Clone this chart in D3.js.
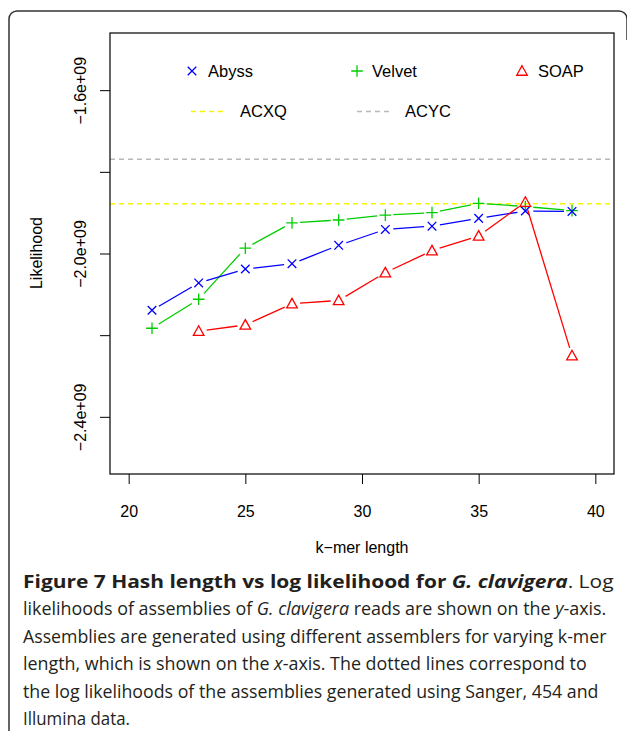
<!DOCTYPE html>
<html>
<head>
<meta charset="utf-8">
<script src="https://cdn.jsdelivr.net/npm/d3@7"></script>
<style>
html,body{margin:0;padding:0;background:#fff;}
svg{display:block;}
</style>
</head>
<body>
<svg id="chart" width="627" height="731"></svg>
<script>
// ---- data ----
const kmers = [21, 23, 25, 27, 29, 31, 33, 35, 37, 39];
const abyss = [-2.139e9, -2.072e9, -2.038e9, -2.025e9, -1.980e9, -1.941e9, -1.933e9, -1.914e9, -1.896e9, -1.897e9];
const velvet = [-2.183e9, -2.112e9, -1.987e9, -1.925e9, -1.918e9, -1.906e9, -1.900e9, -1.877e9, -1.885e9, -1.895e9];
const soapK = [23, 25, 27, 29, 31, 33, 35, 37, 39];
const soap = [-2.190e9, -2.175e9, -2.123e9, -2.115e9, -2.047e9, -1.993e9, -1.957e9, -1.874e9, -2.250e9];
const refNames = ["ACXQ", "ACYC"];
const refValues = [-1.878e9, -1.769e9];
const xTicks = [20, 25, 30, 35, 40];
const yTicks = [-1.6e9, -1.8e9, -2.0e9, -2.2e9, -2.4e9];
const yTickLabels = ["\u22121.6e+09", "", "\u22122.0e+09", "", "\u22122.4e+09"];
const xTitle = "k\u2212mer length";
const yTitle = "Likelihood";

const svg = d3.select("#chart");
const font = "'Liberation Sans', Arial, Helvetica, sans-serif";

// outer frame
const fr = d3.path();
fr.moveTo(9, 731); fr.lineTo(9, 19); fr.arcTo(9, 11, 17, 11, 8);
fr.lineTo(619, 11); fr.arcTo(627, 11, 627, 19, 8); fr.lineTo(627, 40);
svg.append("path").attr("d", fr.toString()).attr("fill", "none").attr("stroke", "#333").attr("stroke-width", 1.5);

const L = 110, R = 614, T = 33, B = 474;
const x = d3.scaleLinear().domain([19.2, 40.8]).range([L, R]);
const y = d3.scaleLinear().domain([-2.54e9, -1.46e9]).range([B, T]);

// axes
const xAxis = d3.axisBottom(x).tickValues(xTicks).tickSize(10).tickPadding(22).tickFormat(d3.format("d"));
const gx = svg.append("g").attr("transform", `translate(0,${B})`).call(xAxis);
gx.select(".domain").remove();
gx.selectAll("line").attr("stroke", "#000");
gx.selectAll("text").attr("font-family", font).attr("font-size", 16).attr("fill", "#000");

const yAxis = d3.axisLeft(y).tickValues(yTicks).tickSize(10).tickFormat((d, i) => yTickLabels[i]);
const gy = svg.append("g").attr("transform", `translate(${L},0)`).call(yAxis);
gy.select(".domain").remove();
gy.selectAll("line").attr("stroke", "#000");
gy.selectAll("text").attr("font-family", font).attr("font-size", 16).attr("fill", "#000")
  .attr("x", null).attr("dy", null)
  .attr("text-anchor", "middle")
  .attr("transform", "translate(-30,0) rotate(-90)")
  .attr("dy", "0.35em");

// reference lines
const refColors = ["#f5f500", "#b8b8b8"];
refValues.forEach((v, i) => {
  svg.append("line").attr("x1", L).attr("x2", R).attr("y1", y(v)).attr("y2", y(v))
    .attr("stroke", refColors[i]).attr("stroke-width", 1.6).attr("stroke-dasharray", "5,4");
});

// plot box
svg.append("rect").attr("x", L).attr("y", T).attr("width", R - L).attr("height", B - T)
  .attr("fill", "none").attr("stroke", "#000").attr("stroke-width", 1.2);

// titles
svg.append("text").attr("x", (L + R) / 2).attr("y", 553).attr("text-anchor", "middle")
  .attr("font-family", font).attr("font-size", 16).text(xTitle);
svg.append("text").attr("transform", "translate(42,253) rotate(-90)").attr("text-anchor", "middle")
  .attr("font-family", font).attr("font-size", 16).text(yTitle);

// series
const GAP = 8;
function drawSeries(ks, vs, color, shape) {
  const pts = ks.map((k, i) => [x(k), y(vs[i])]);
  const g = svg.append("g");
  for (let i = 0; i < pts.length - 1; i++) {
    const [x1, y1] = pts[i], [x2, y2] = pts[i + 1];
    const d = Math.hypot(x2 - x1, y2 - y1);
    if (d <= 2 * GAP) continue;
    const ux = (x2 - x1) / d, uy = (y2 - y1) / d;
    g.append("line").attr("x1", x1 + ux * GAP).attr("y1", y1 + uy * GAP)
      .attr("x2", x2 - ux * GAP).attr("y2", y2 - uy * GAP)
      .attr("stroke", color).attr("stroke-width", 1.3);
  }
  pts.forEach(p => marker(g, p[0], p[1], color, shape));
}
function marker(g, cx, cy, color, shape) {
  if (shape === "x") {
    const r = 4.3;
    g.append("path").attr("d", `M${cx - r},${cy - r}L${cx + r},${cy + r}M${cx - r},${cy + r}L${cx + r},${cy - r}`)
      .attr("stroke", color).attr("stroke-width", 1.3).attr("fill", "none");
  } else if (shape === "+") {
    const r = 5.8;
    g.append("path").attr("d", `M${cx - r},${cy}L${cx + r},${cy}M${cx},${cy - r}L${cx},${cy + r}`)
      .attr("stroke", color).attr("stroke-width", 1.3).attr("fill", "none");
  } else {
    const s = 5.3;
    g.append("path").attr("d", `M${cx},${cy - s}L${cx + s},${cy + s * 0.8}L${cx - s},${cy + s * 0.8}Z`)
      .attr("stroke", color).attr("stroke-width", 1.3).attr("fill", "none");
  }
}
drawSeries(kmers, velvet, "#00cd00", "+");
drawSeries(kmers, abyss, "#0000ff", "x");
drawSeries(soapK, soap, "#ff0000", "tri");

// legend
const leg = svg.append("g");
const legItems = [
  {name: "Abyss", color: "#0000ff", shape: "x", mx: 192, tx: 208, ly: 71},
  {name: "Velvet", color: "#00cd00", shape: "+", mx: 357, tx: 372, ly: 71},
  {name: "SOAP", color: "#ff0000", shape: "tri", mx: 522, tx: 538, ly: 71}
];
legItems.forEach(it => {
  marker(leg, it.mx, it.ly, it.color, it.shape);
  leg.append("text").attr("x", it.tx).attr("y", it.ly).attr("dy", "0.35em")
    .attr("font-family", font).attr("font-size", 16.5).text(it.name);
});
const refLeg = [{x1: 191, x2: 223, tx: 240}, {x1: 357, x2: 389, tx: 405}];
refLeg.forEach((it, i) => {
  leg.append("line").attr("x1", it.x1).attr("x2", it.x2).attr("y1", 111.5).attr("y2", 111.5)
    .attr("stroke", refColors[i]).attr("stroke-width", 1.6).attr("stroke-dasharray", "5,4");
  leg.append("text").attr("x", it.tx).attr("y", 111.5).attr("dy", "0.35em")
    .attr("font-family", font).attr("font-size", 16.5).text(refNames[i]);
});

// caption
const capFont = "'Open Sans', 'Noto Sans', sans-serif";
const capLines = [
  {parts: [["Figure 7 Hash length vs log likelihood for ", "bold", "normal"], ["G. clavigera", "bold", "italic"], [". Log", "normal", "normal"]], end: 614},
  {parts: [["likelihoods of assemblies of ", "normal", "normal"], ["G. clavigera", "normal", "italic"], [" reads are shown on the ", "normal", "normal"], ["y", "normal", "italic"], ["-axis.", "normal", "normal"]], end: 607},
  {parts: [["Assemblies are generated using different assemblers for varying k-mer", "normal", "normal"]], end: 607},
  {parts: [["length, which is shown on the ", "normal", "normal"], ["x", "normal", "italic"], ["-axis. The dotted lines correspond to", "normal", "normal"]], end: 587},
  {parts: [["the log likelihoods of the assemblies generated using Sanger, 454 and", "normal", "normal"]], end: 599},
  {parts: [["Illumina data.", "normal", "normal"]], end: 130}
];
const capX = 23, capY0 = 588, capDy = 27.4;
capLines.forEach((ln, i) => {
  const g = svg.append("g");
  const t = g.append("text").attr("x", 0).attr("y", 0)
    .attr("font-family", capFont).attr("font-size", 18.5).attr("fill", "#231f20");
  ln.parts.forEach(p => {
    t.append("tspan").attr("font-weight", p[1]).attr("font-style", p[2]).text(p[0]);
  });
  const w = t.node().getComputedTextLength();
  const sx = (ln.end - capX) / w;
  g.attr("transform", `translate(${capX},${capY0 + i * capDy}) scale(${sx},1)`);
});
</script>
</body>
</html>
